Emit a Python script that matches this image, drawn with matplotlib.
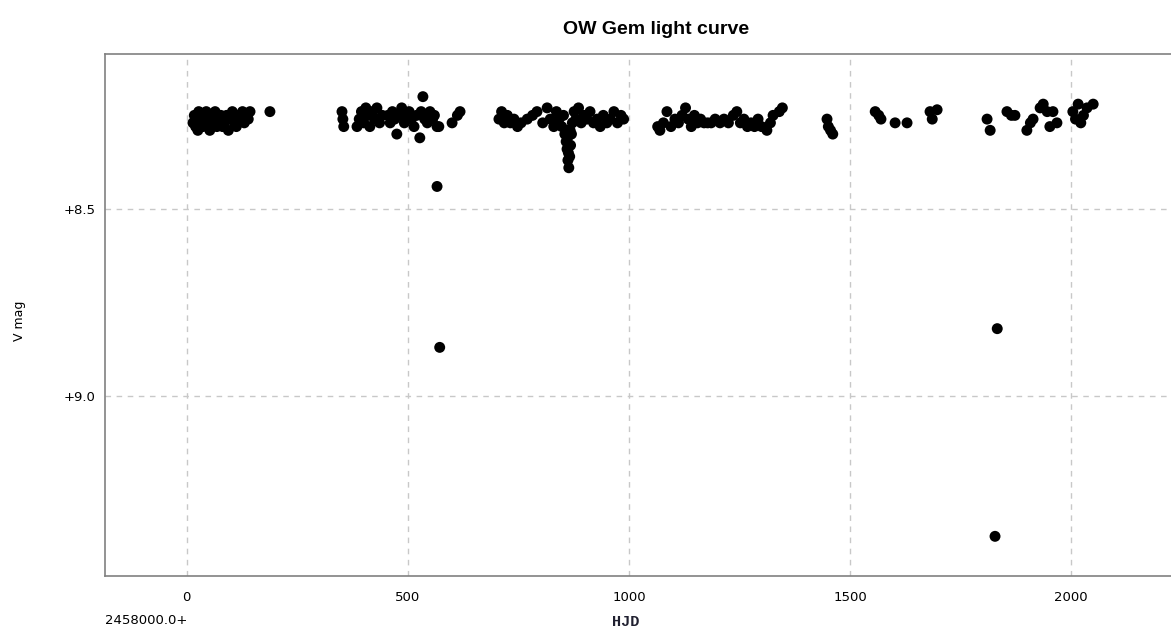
import matplotlib.pyplot as plt

# ===============================
# OW Gem light curve
# ===============================

# -------------------------------
# data (HJD - 2458000, V mag)
# -------------------------------
s1_hjd = [14, 17, 20, 22, 25, 27, 30, 33, 36, 40, 44, 47, 52, 56, 60, 64, 68, 72,
          77, 81, 85, 90, 94, 99, 103, 108, 112, 117, 121, 126, 130, 135, 139, 143, 188]
s1_mag = [8.27, 8.25, 8.28, 8.26, 8.29, 8.24, 8.27, 8.25, 8.28, 8.26, 8.24, 8.27,
          8.29, 8.25, 8.27, 8.24, 8.28, 8.26, 8.25, 8.28, 8.27, 8.25, 8.29, 8.26,
          8.24, 8.27, 8.28, 8.25, 8.26, 8.24, 8.27, 8.25, 8.26, 8.24, 8.24]

s2_hjd = [351, 353, 355, 385, 390, 395, 400, 405, 410, 414, 420, 425, 430, 436, 442,
          455, 460, 465, 470, 475, 480, 486, 492, 498, 503, 508, 514, 520, 527, 530,
          534, 538, 544, 550, 556, 560, 566, 570, 600, 612, 618]
s2_mag = [8.24, 8.26, 8.28, 8.28, 8.26, 8.24, 8.27, 8.23, 8.25, 8.28, 8.24, 8.26,
          8.23, 8.27, 8.25, 8.25, 8.27, 8.24, 8.26, 8.30, 8.25, 8.23, 8.27, 8.25,
          8.24, 8.26, 8.28, 8.25, 8.31, 8.24, 8.20, 8.26, 8.27, 8.24, 8.26, 8.25,
          8.28, 8.28, 8.27, 8.25, 8.24]

s3_hjd = [706, 712, 718, 725, 732, 740, 748, 756, 770, 782, 792, 805, 815, 822, 830,
          836, 842, 848, 852, 855, 858, 860, 862, 864, 866, 868, 870, 872, 876, 880,
          886, 892, 898, 905, 912, 920, 928, 935, 942, 950, 958, 966, 974, 982, 988,
          859, 861, 863, 865, 867]
s3_mag = [8.26, 8.24, 8.27, 8.25, 8.27, 8.26, 8.28, 8.27, 8.26, 8.25, 8.24, 8.27,
          8.23, 8.26, 8.28, 8.24, 8.26, 8.28, 8.25, 8.30, 8.32, 8.34, 8.37, 8.39,
          8.36, 8.33, 8.30, 8.27, 8.24, 8.26, 8.23, 8.27, 8.25, 8.26, 8.24, 8.27,
          8.26, 8.28, 8.25, 8.27, 8.26, 8.24, 8.27, 8.25, 8.26,
          8.29, 8.31, 8.35, 8.33, 8.29]

s4_hjd = [1065, 1070, 1078, 1086, 1095, 1104, 1112, 1120, 1128, 1134, 1141, 1148,
          1155, 1162, 1170, 1178, 1186, 1195, 1206, 1215, 1225, 1236, 1244, 1252,
          1260, 1268, 1276, 1284, 1292, 1300, 1312, 1320, 1326, 1340, 1347]
s4_mag = [8.28, 8.29, 8.27, 8.24, 8.28, 8.26, 8.27, 8.25, 8.23, 8.26, 8.28, 8.25,
          8.27, 8.26, 8.27, 8.27, 8.27, 8.26, 8.27, 8.26, 8.27, 8.25, 8.24, 8.27,
          8.26, 8.28, 8.27, 8.28, 8.26, 8.28, 8.29, 8.27, 8.25, 8.24, 8.23]

s5_hjd = [1448, 1451, 1456, 1461, 1557, 1565, 1570, 1602, 1629, 1681, 1686, 1697]
s5_mag = [8.26, 8.28, 8.29, 8.30, 8.24, 8.25, 8.26, 8.27, 8.27, 8.24, 8.26, 8.235]

s6_hjd = [1810, 1817, 1855, 1865, 1873, 1900, 1908, 1914, 1930, 1937, 1946, 1952,
          1959, 1968, 2004, 2010, 2016, 2022, 2028, 2036, 2050]
s6_mag = [8.26, 8.29, 8.24, 8.25, 8.25, 8.29, 8.27, 8.26, 8.23, 8.22, 8.24, 8.28,
          8.24, 8.27, 8.24, 8.26, 8.22, 8.27, 8.25, 8.23, 8.22]

out_hjd = [566, 572, 1833, 1828]
out_mag = [8.44, 8.87, 8.82, 9.375]

x_ticks = [0, 500, 1000, 1500, 2000]
y_ticks = [8.5, 9.0]
y_tick_labels = ["+8.5", "+9.0"]

# -------------------------------
# figure
# -------------------------------
fig = plt.figure(figsize=(11.71, 6.32), dpi=100)
ax = fig.add_axes([105 / 1171, 56 / 632, 1.0 - 105 / 1171, 522 / 632])

hjd = s1_hjd + s2_hjd + s3_hjd + s4_hjd + s5_hjd + s6_hjd + out_hjd
mag = s1_mag + s2_mag + s3_mag + s4_mag + s5_mag + s6_mag + out_mag
ax.scatter(hjd, mag, s=62, c="black", edgecolors="none", zorder=3)

ax.set_xlim(-185, 2226)
ax.set_ylim(9.481, 8.086)

ax.set_xticks(x_ticks)
ax.set_xticklabels([str(t) for t in x_ticks])
ax.set_yticks(y_ticks)
ax.set_yticklabels(y_tick_labels)
ax.tick_params(length=0, labelsize=9.5, colors="black")
ax.tick_params(axis="x", pad=11)
ax.tick_params(axis="y", pad=7)

ax.grid(True, color="#c8c8c8", linestyle=(0, (4, 4)), linewidth=1)
for side in ["left", "bottom", "top"]:
    ax.spines[side].set_color("#808080")
    ax.spines[side].set_linewidth(1.2)
ax.spines["right"].set_visible(False)

# -------------------------------
# texts
# -------------------------------
fig.text(656 / 1171, 1 - 29 / 632, "OW Gem light curve", ha="center", va="center",
         fontsize=14, fontweight="bold", family="Liberation Sans")
fig.text(20 / 1171, 1 - 321 / 632, "V mag", rotation=90, ha="center", va="center",
         fontsize=9)
fig.text(105 / 1171, 1 - 621 / 632, "2458000.0+", ha="left", va="center", fontsize=9.5)
fig.text(626 / 1171, 1 - 622 / 632, "HJD", ha="center", va="center", fontsize=11,
         family="Liberation Mono", fontweight="bold", color="#202030")

fig.savefig("out.png", dpi=100)
